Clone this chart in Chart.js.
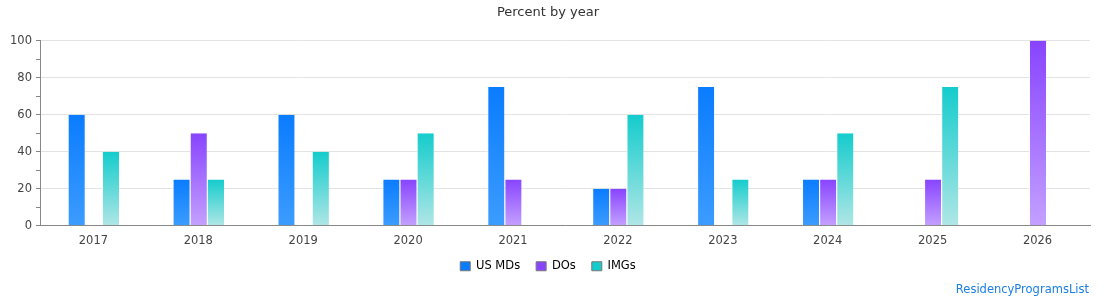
<!DOCTYPE html>
<html>
<head>
<meta charset="utf-8">
<script src="https://cdn.jsdelivr.net/npm/chart.js@4/dist/chart.umd.min.js"></script>
<style>
  html, body { margin: 0; padding: 0; background: #fff; }
  #wrap { position: relative; width: 1110px; height: 300px; }
  #credit {
    position: absolute; right: 21px; top: 282px;
    font: 11.5px "DejaVu Sans", sans-serif; color: #1a7fe6;
  }
</style>
</head>
<body>
<div id="wrap">
  <canvas id="chart" width="1110" height="300"></canvas>
  <div id="credit">ResidencyProgramsList</div>
</div>
<script>
const years = ['2017', '2018', '2019', '2020', '2021', '2022', '2023', '2024', '2025', '2026'];
const usMDs = [60, 25, 60, 25, 75, 20, 75, 25, null, null];
const dos   = [null, 50, null, 25, 25, 20, null, 25, 25, 100];
const imgs  = [40, 25, 40, 50, null, 60, 25, 50, 75, null];

const seriesNames = ['US MDs', 'DOs', 'IMGs'];
const topColors = ['#0a7cff', '#8844ff', '#14cccc'];
const bottomColors = ['#3c9cff', '#c4a0ff', '#b0e6e6'];

// vertical gradient per bar, from the bar top down to zero
function barGradient(i) {
    return (ctx) => {
        const chart = ctx.chart;
        const y = chart.scales.y;
        if (!y || ctx.raw == null) return topColors[i];
        const top = y.getPixelForValue(ctx.raw);
        const bottom = y.getPixelForValue(0);
        if (!isFinite(top) || !isFinite(bottom) || top === bottom) return topColors[i];
        const g = chart.ctx.createLinearGradient(0, top, 0, bottom);
        g.addColorStop(0, topColors[i]);
        g.addColorStop(1, bottomColors[i]);
        return g;
    };
}

const font = { family: '"DejaVu Sans", sans-serif', size: 11.5 };

new Chart(document.getElementById('chart'), {
    type: 'bar',
    data: {
        labels: years,
        datasets: [usMDs, dos, imgs].map((d, i) => ({
            label: seriesNames[i],
            data: d,
            backgroundColor: barGradient(i),
            borderColor: '#ffffff',
            borderWidth: { left: 1, right: 0, top: 0, bottom: 0 },
            borderSkipped: false,
            categoryPercentage: 0.49,
            barPercentage: 1.0
        }))
    },
    options: {
        responsive: false,
        animation: false,
        layout: { padding: { left: 6, right: 20, top: 0, bottom: 18 } },
        plugins: {
            title: {
                display: true,
                text: 'Percent by year',
                color: '#333',
                font: { family: font.family, size: 13, weight: 'normal' },
                padding: { top: 5, bottom: 20 }
            },
            legend: {
                position: 'bottom',
                labels: {
                    color: '#333',
                    font: font,
                    boxWidth: 10,
                    boxHeight: 9,
                    padding: 16,
                    generateLabels: () => seriesNames.map((n, i) => ({
                        text: n,
                        fillStyle: topColors[i],
                        strokeStyle: '#777',
                        lineWidth: 1,
                        datasetIndex: i
                    }))
                }
            },
            tooltip: { enabled: false }
        },
        scales: {
            x: {
                grid: { display: false },
                border: { color: '#888', width: 1 },
                ticks: { color: '#444', font: font, padding: 0 },
                afterFit: (scale) => { scale.height -= 3; }
            },
            y: {
                min: 0,
                max: 100,
                ticks: {
                    stepSize: 10,
                    color: '#444',
                    font: font,
                    padding: 4,
                    callback: (v) => (v % 20 === 0 ? v : '')
                },
                grid: {
                    color: (c) => (c.tick && c.tick.value % 20 === 0 ? '#e3e3e3' : 'rgba(0,0,0,0)'),
                    tickColor: '#888',
                    tickLength: 5,
                    drawTicks: true
                },
                border: { color: '#888', width: 1 }
            }
        }
    }
});
</script>
</body>
</html>
